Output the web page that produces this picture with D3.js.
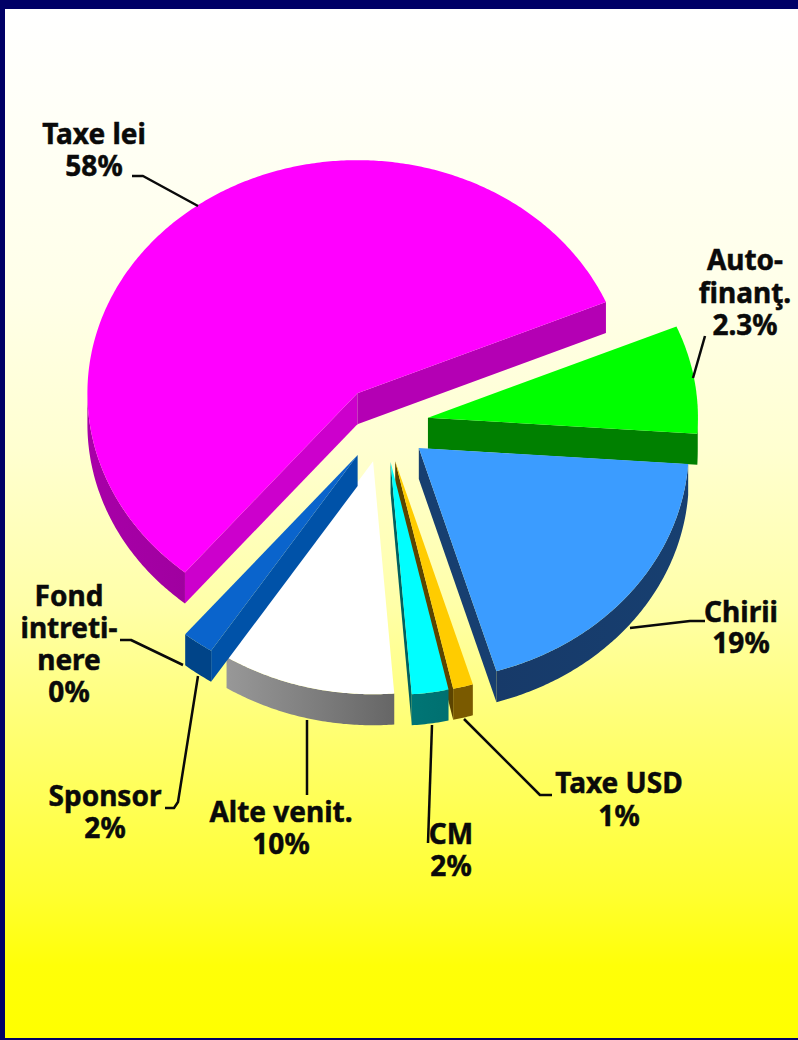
<!DOCTYPE html>
<html>
<head>
<meta charset="utf-8">
<script src="https://cdn.jsdelivr.net/npm/d3@7"></script>
<style>
    html, body { margin: 0; padding: 0; background: #000066; }
    svg { display: block; }
    .label { font-family: "Noto Sans", sans-serif; font-weight: 700; font-size: 28px; fill: #0a0a0a; stroke: #0a0a0a; stroke-width: 0.5px; text-anchor: middle; }
    .leader { fill: none; stroke: #0a0a0a; stroke-width: 2.5px; stroke-linejoin: round; }
</style>
</head>
<body>
<script>
//slice names, clockwise from the cut at the upper right
var categories = ["Auto-finant", "Chirii", "Taxe USD", "CM", "Alte venit", "Sponsor", "Fond intretinere", "Taxe lei"];

//share of the circle each slice really occupies
var shares = [7.5, 19.3, 1.2, 2.2, 10.4, 1.9, 0, 57.7];

//printed labels (these differ from the drawn shares for Auto-finant.)
var labelLines = [
    ["Auto-", "finanţ.", "2.3%"],
    ["Chirii", "19%"],
    ["Taxe USD", "1%"],
    ["CM", "2%"],
    ["Alte venit.", "10%"],
    ["Sponsor", "2%"],
    ["Fond", "intreti-", "nere", "0%"],
    ["Taxe lei", "58%"]
];

//slice colours
var topColors = ["#00ff00", "#3b9cff", "#ffcc00", "#00ffff", "#ffffff", "#0a64cc", "#0a64cc", "#ff00ff"];
var arcColorsLeft = ["#008000", "#173a69", "#7a5a00", "#007575", "#989898", "#004488", "#004488", "#a800a8"];
var arcColorsRight = ["#008000", "#173f70", "#7a5a00", "#007070", "#666666", "#004488", "#004488", "#a000a0"];
var cutColorsStart = ["#008000", "#173f70", "#5c4400", "#006060", "#777777", "#0052a8", "#0052a8", "#cc00cc"];
var cutColorsEnd = ["#008000", "#173f70", "#5c4400", "#006060", "#777777", "#0052a8", "#0052a8", "#b400b4"];

//background colour stops (offset, colour)
var bgOffsets = [0, 0.09, 0.28, 0.43, 0.58, 0.67, 0.86, 0.93, 1];
var bgColors = ["#ffffff", "#fffff8", "#ffffe8", "#ffffd0", "#ffffa8", "#ffff80", "#ffff30", "#ffff08", "#ffff00"];

//label anchors (centre x, first baseline)
var labelX = [745, 741, 619, 451, 281, 105, 69, 94];
var labelY = [270, 622, 793, 844, 822, 806, 606, 144];
var lineStep = [32.5, 31, 33, 32, 32, 32, 32, 32];

//leader lines
var leaders = [
    [[705, 336], [693, 378]],
    [[705, 621], [690, 621], [630, 628]],
    [[552, 795], [540, 795], [464, 719]],
    [[428, 843], [432, 725]],
    [[307, 795], [307, 720]],
    [[165, 808], [174, 808], [178, 802], [198, 676]],
    [[120, 640], [131, 640], [183, 665]],
    [[132, 176], [143, 176], [198, 206]]
];

//chart frame dimensions
var width = 798,
    height = 1040;

//pie geometry: tilted ellipse, extruded wall, every slice pulled out the same amount
var cx = 384,
    cy = 424,
    rx = 270,
    ry = 233,
    depth = 31,
    explode = 0.165,
    firstAngle = 67 * Math.PI / 180;

var svg = d3.select("body")
    .append("svg")
    .attr("width", width)
    .attr("height", height);

var defs = svg.append("defs");

//page background
var bg = defs.append("linearGradient")
    .attr("id", "bg")
    .attr("x1", 0).attr("y1", 0)
    .attr("x2", 0).attr("y2", 1);

bg.selectAll("stop")
    .data(bgOffsets)
    .enter()
    .append("stop")
    .attr("offset", function (d) { return d; })
    .attr("stop-color", function (d, i) { return bgColors[i]; });

svg.append("rect")
    .attr("x", 0).attr("y", 0)
    .attr("width", width).attr("height", height)
    .attr("fill", "#000066");

svg.append("rect")
    .attr("x", 5).attr("y", 9)
    .attr("width", width - 5).attr("height", height - 11)
    .attr("fill", "url(#bg)");

//angles come from d3.pie
var pie = d3.pie()
    .sort(null)
    .value(function (d) { return d; })
    .startAngle(firstAngle)
    .endAngle(firstAngle + 2 * Math.PI);

var slices = pie(shares);

var line = d3.line();

//point on the ellipse rim for a slice apex
function rim(apex, t) {
    return [apex[0] + rx * Math.sin(t), apex[1] - ry * Math.cos(t)];
}

//sample the rim between two angles
function rimPoints(apex, t0, t1) {
    var n = Math.max(2, Math.ceil(Math.abs(t1 - t0) / 0.01));
    return d3.range(n + 1).map(function (i) {
        return rim(apex, t0 + (t1 - t0) * i / n);
    });
}

function drop(p) {
    return [p[0], p[1] + depth];
}

//a cut face shows only when going straight down leaves the slice
function cutVisible(apex, t, inward) {
    var p = rim(apex, t),
        q = rim(apex, t + inward * 0.001),
        ex = p[0] - apex[0],
        ey = p[1] - apex[1],
        cross = ex * (q[1] - p[1]) - ey * (q[0] - p[0]);
    return ex * cross < 0;
}

var sliceGroups = svg.selectAll(".slice")
    .data(slices)
    .enter()
    .append("g")
    .attr("class", function (d, i) { return "slice s" + i; });

sliceGroups.each(function (d, i) {
    if (d.value === 0) { return; }

    var g = d3.select(this),
        mid = (d.startAngle + d.endAngle) / 2,
        apex = [cx + explode * rx * Math.sin(mid), cy - explode * ry * Math.cos(mid)];

    //cut faces
    [[d.startAngle, 1, cutColorsStart[i]], [d.endAngle, -1, cutColorsEnd[i]]].forEach(function (edge) {
        if (!cutVisible(apex, edge[0], edge[1])) { return; }
        var p = rim(apex, edge[0]);
        g.append("path")
            .attr("d", line([apex, p, drop(p), drop(apex)]) + "Z")
            .attr("fill", edge[2]);
    });

    //outer wall, only the part facing the viewer
    [[0.5, 1.5], [2.5, 3.5]].forEach(function (range) {
        var t0 = Math.max(d.startAngle, range[0] * Math.PI),
            t1 = Math.min(d.endAngle, range[1] * Math.PI);
        if (t1 <= t0) { return; }

        var top = rimPoints(apex, t0, t1),
            id = "wall" + i;

        var grad = defs.append("linearGradient")
            .attr("id", id)
            .attr("gradientUnits", "userSpaceOnUse")
            .attr("x1", d3.min(top, function (p) { return p[0]; }))
            .attr("x2", d3.max(top, function (p) { return p[0]; }))
            .attr("y1", 0).attr("y2", 0);
        grad.append("stop").attr("offset", "0%").attr("stop-color", arcColorsLeft[i]);
        grad.append("stop").attr("offset", "100%").attr("stop-color", arcColorsRight[i]);

        g.append("path")
            .attr("d", line(top.concat(top.map(drop).reverse())) + "Z")
            .attr("fill", "url(#" + id + ")");
    });

    //top face
    g.append("path")
        .attr("d", line([apex].concat(rimPoints(apex, d.startAngle, d.endAngle))) + "Z")
        .attr("fill", topColors[i]);
});

//leader lines
svg.selectAll(".leader")
    .data(leaders)
    .enter()
    .append("path")
    .attr("class", "leader")
    .attr("d", function (d) { return line(d); });

//labels
var labels = svg.selectAll(".label")
    .data(labelLines)
    .enter()
    .append("text")
    .attr("class", "label")
    .attr("y", function (d, i) { return labelY[i]; });

labels.each(function (d, i) {
    d3.select(this).selectAll("tspan")
        .data(d)
        .enter()
        .append("tspan")
        .attr("x", labelX[i])
        .attr("y", function (t, j) { return labelY[i] + j * lineStep[i]; })
        .text(function (t) { return t; });
});
</script>
</body>
</html>
